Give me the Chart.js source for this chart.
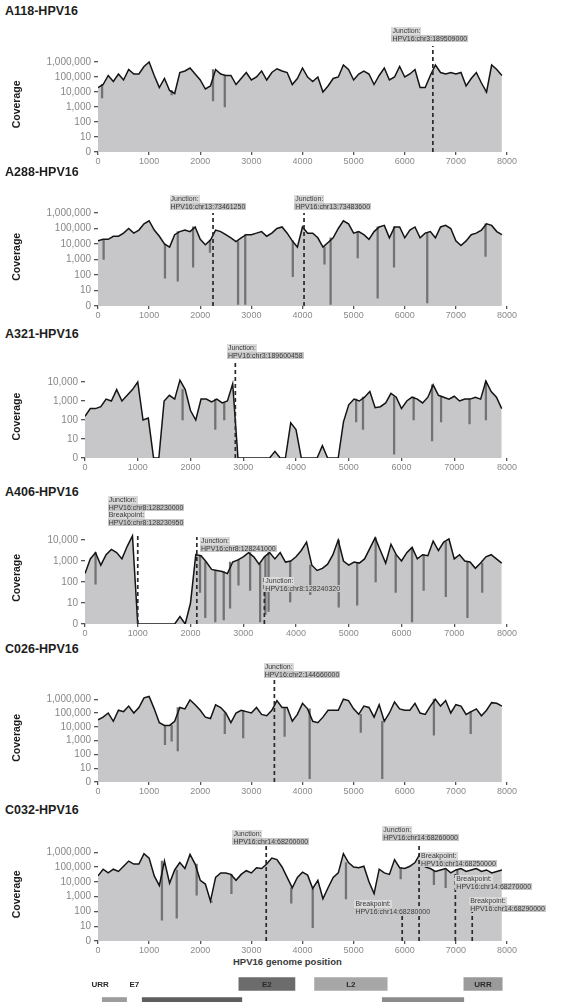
<!DOCTYPE html>
<html><head><meta charset="utf-8">
<script src="https://cdn.jsdelivr.net/npm/chart.js@4.4.0/dist/chart.umd.min.js"></script>
<style>
html,body{margin:0;padding:0;background:#fff;}
body{width:563px;height:1002px;position:relative;overflow:hidden;font-family:'Liberation Sans',Arial,sans-serif;}
canvas{position:absolute;}
.title{position:absolute;left:5px;font-weight:bold;font-size:12.5px;color:#1e1e1e;z-index:3;}
.lab{position:absolute;z-index:4;font-size:7px;line-height:7.6px;color:#3a3a3a;white-space:nowrap;}
.lab div{background:#c6c6c6;padding:0 1px;width:max-content;}
.lab div.h{background:#dadada;}
.gene{position:absolute;z-index:4;font-size:8px;font-weight:bold;color:#2a2a2a;transform:translate(-50%,-50%);white-space:nowrap;}
.xt{position:absolute;z-index:4;font-size:9.5px;font-weight:bold;color:#3a3a3a;}
</style></head>
<body>
<script>
// ---------------- DATA ----------------
const positions = [0,100,200,300,400,500,600,700,800,900,1000,1100,1200,1300,1400,1500,1600,1700,1800,1900,
  2000,2100,2200,2300,2400,2500,2600,2700,2800,2900,3000,3100,3200,3300,3400,3500,3600,3700,3800,3900,
  4000,4100,4200,4300,4400,4500,4600,4700,4800,4900,5000,5100,5200,5300,5400,5500,5600,5700,5800,5900,
  6000,6100,6200,6300,6400,6500,6600,6700,6800,6900,7000,7100,7200,7300,7400,7500,7600,7700,7800,7900];
const xTickValues = [0,1000,2000,3000,4000,5000,6000,7000,8000];
const yTickLabels = ['0','10','100','1,000','10,000','100,000','1,000,000'];
const yTicksMillion = [0,1,2,3,4,5,6];
const yTicksTenK = [0,1,2,3,4];

// coverage, log10 units (0 = no coverage)
const a118Cov = [4.3,4.5,5.1,4.7,5.2,4.8,5.5,5.2,5.2,5.7, 6.0,5.1,4.3,4.9,4.1,3.9,5.3,5.4,5.6,5.2,
  4.8,4.2,4.4,5.5,5.2,5.1,5.1,4.5,4.9,5.3, 4.8,5.0,5.4,4.8,5.3,5.55,5.4,5.3,4.5,4.9,
  5.6,5.0,4.7,5.0,4.0,4.4,4.9,5.0,5.8,5.5, 4.8,5.2,5.4,5.2,4.5,5.1,5.6,4.8,5.0,5.7,
  5.0,5.2,5.5,4.3,4.3,5.1,5.8,5.3,5.2,5.3, 5.2,5.3,4.4,4.9,5.3,4.6,4.0,5.8,5.5,5.1];
const a288Cov = [4.2,4.3,4.3,4.5,4.5,4.7,5.0,4.7,4.9,5.3, 5.5,4.9,4.5,4.0,3.8,4.6,4.8,4.9,4.8,5.1,
  4.3,3.95,4.25,4.9,4.8,4.6,4.4,4.15,4.4,4.6, 4.6,4.7,4.8,4.5,4.7,5.0,5.1,4.7,4.2,3.8,
  5.1,4.7,4.7,4.4,3.8,4.1,4.4,5.0,5.5,5.3, 4.7,4.8,4.6,4.3,4.8,5.1,5.2,4.4,5.1,5.1,
  4.4,4.9,5.1,4.4,4.7,4.8,4.4,5.1,5.2,5.0, 4.2,3.9,4.2,4.6,4.7,4.9,5.3,5.2,4.8,4.6];
const a321Cov = [2.2,2.6,2.6,2.7,3.1,3.0,3.6,3.0,3.3,3.6, 4.0,2.0,2.1,0,0,3.0,3.3,3.1,4.1,3.6,
  2.5,2.0,3.1,3.1,2.95,3.1,2.9,3.0,3.9,0, 0,0,0,0,0,0,0.35,0,0,1.85,
  1.5,0,0,0,0,0.65,0,0,0,1.9, 2.8,3.1,3.0,3.2,3.5,2.65,2.7,2.9,3.4,3.2,
  2.6,3.0,3.2,3.1,2.9,3.2,3.85,3.3,3.2,3.1, 3.25,3.0,3.1,3.1,3.2,3.1,4.05,3.5,3.2,2.6];
const a406Cov = [2.4,3.1,3.4,2.8,3.3,3.55,3.4,3.1,3.7,4.2, 0,0,0,0,0,0,0,0,0.35,0,
  1.0,3.3,3.25,2.95,2.6,2.55,2.5,2.4,2.95,3.05, 3.2,3.4,3.2,2.85,3.2,3.4,3.1,3.4,2.95,3.0,
  3.2,3.5,3.9,2.8,2.55,2.65,2.85,3.3,4.0,3.0, 2.8,2.95,2.9,3.1,3.6,4.1,3.5,2.9,3.8,3.3,
  3.0,3.4,3.65,3.1,3.3,3.25,3.95,3.5,3.9,4.05, 3.1,3.3,3.0,2.95,2.65,2.9,3.2,3.3,3.1,2.9];
const c026Cov = [4.5,4.7,5.0,4.4,5.2,5.1,5.5,5.0,5.4,6.1, 6.2,5.3,4.3,4.1,4.1,4.4,5.4,5.3,5.95,5.6,
  5.2,4.7,4.6,5.6,5.4,5.0,4.3,5.0,5.2,5.1, 5.0,5.4,4.9,4.8,5.2,5.9,5.4,5.4,4.4,4.9,
  5.7,5.3,4.4,4.3,4.7,5.2,5.2,5.2,6.0,5.9, 5.3,4.9,5.5,5.4,4.7,5.6,4.4,5.0,5.8,5.3,
  5.2,5.2,5.7,5.0,4.9,5.5,6.0,5.5,5.9,5.0, 5.6,5.5,4.9,5.1,5.3,4.8,5.2,5.75,5.7,5.5];
const c032Cov = [4.4,4.85,4.6,4.85,4.7,5.05,5.4,5.2,5.2,5.9, 5.6,4.4,3.75,5.4,3.9,4.8,5.3,4.9,5.85,5.2,
  4.1,3.85,2.7,4.3,4.6,4.6,4.5,4.1,4.5,4.75, 4.6,4.95,4.9,5.2,5.6,5.5,5.0,4.3,3.6,4.3,
  4.65,4.45,3.55,4.1,2.85,3.6,4.3,4.6,5.9,5.3, 5.0,4.95,5.05,4.0,3.2,4.85,4.6,4.5,5.5,4.95,
  4.9,5.05,5.3,5.9,5.0,4.9,4.7,4.8,4.9,4.6, 4.8,4.9,4.7,4.8,4.9,4.7,4.8,4.6,4.7,4.8];

// narrow coverage drops: [position, log10 depth]
const a118Dips = [[80,3.6],[1440,3.8],[2250,3.4],[2480,3.0],[7580,4.0]];
const a288Dips = [[110,3.0],[1310,1.8],[1560,1.6],[1860,2.5],[2190,3.45],[2740,0.1],[2880,0.1],[3810,1.9],
  [4430,2.7],[4550,0.1],[5080,3.1],[5470,0.5],[5790,2.5],[6440,0.2],[7580,3.2]];
const a321Dips = [[1850,2.0],[2470,1.5],[2640,2.0],[5140,1.9],[5270,1.5],[5860,0.2],[6230,2.0],[6580,0.9],
  [6750,1.9],[7290,1.8],[7600,2.0]];
const a406Dips = [[200,1.9],[2180,1.5],[2280,0.3],[2470,0.1],[2630,0.2],[2750,0.75],[2910,1.85],[3130,1.6],
  [3320,0.1],[3420,0.45],[3480,0.6],[3890,1.05],[4270,1.4],[4810,0.8],[5160,0.9],[5510,2.0],[5890,1.5],
  [6200,0.1],[6420,1.6],[6840,1.3],[7250,0.3],[7530,1.5]];
const c026Dips = [[1310,2.7],[1440,2.95],[1560,2.25],[2480,3.5],[2840,3.2],[3650,3.3],[4140,0.25],
  [5140,3.6],[5560,0.25],[6570,3.4],[7290,3.5]];
const c032Dips = [[1250,1.4],[1540,1.55],[1930,3.1],[2220,2.6],[2610,3.2],[3780,2.55],[4200,0.9],
  [4850,2.85],[5400,3.2],[5920,4.2],[6570,3.8],[6800,3.6],[7030,3.9]];

// junction / breakpoint positions on the HPV16 genome
const a118Junctions = [6550];
const a288Junctions = [2250, 4030];
const a321Junctions = [2850];
const a406Junctions = [1000, 2120, 3400];
const c026Junctions = [3450];
const c032Junctions = [3290, 5950, 6280, 6990, 7320];

// annotation texts
const a118Notes = [['Junction:','HPV16:chr3:189509000']];
const a288Notes = [['Junction:','HPV16:chr13:73461250'],['Junction:','HPV16:chr13:73483600']];
const a321Notes = [['Junction:','HPV16:chr3:189600458']];
const a406Notes = [['Junction:','HPV16:chr8:128230000','Breakpoint:','HPV16:chr8:128230950'],
  ['Junction:','HPV16:chr8:128241000'],['Junction:','HPV16:chr8:128240320']];
const c026Notes = [['Junction:','HPV16:chr2:144660000']];
const c032Notes = [['Junction:','HPV16:chr14:68200000'],['Junction:','HPV16:chr14:68260000'],
  ['Breakpoint:','HPV16:chr14:68250000'],['Breakpoint:','HPV16:chr14:68270000'],
  ['Breakpoint:','HPV16:chr14:68280000'],['Breakpoint:','HPV16:chr14:68290000']];

// HPV16 genes
const geneNames = ['URR','E6','E7','E1','E2','E4','E5','L2','L1','URR'];
const geneStart = [1,83,562,865,2755,3332,3849,4236,5560,7156];
const geneEnd   = [82,559,858,2813,3852,3619,4100,5657,7155,7906];

// ---------------- LAYOUT / STYLE ----------------
const FAM = "'Liberation Sans', Arial, sans-serif";
const panels = [
  {title:'A118-HPV16', cov:a118Cov, dips:a118Dips, junc:a118Junctions, notes:a118Notes, yTicks:yTicksMillion,
   titleTop:5, yZero:152, dec:15, ymax:6.35, wy:98, juncTop:[46], notePos:[[5740,27]]},
  {title:'A288-HPV16', cov:a288Cov, dips:a288Dips, junc:a288Junctions, notes:a288Notes, yTicks:yTicksMillion,
   titleTop:166, yZero:306, dec:15.5, ymax:6.35, wy:98, juncTop:[213,213], notePos:[[1400,195],[3840,195]]},
  {title:'A321-HPV16', cov:a321Cov, dips:a321Dips, junc:a321Junctions, notes:a321Notes, yTicks:yTicksTenK,
   titleTop:328, yZero:458, dec:19, ymax:4.35, wy:85, juncTop:[360], notePos:[[2690,344]]},
  {title:'A406-HPV16', cov:a406Cov, dips:a406Dips, junc:a406Junctions, notes:a406Notes, yTicks:yTicksTenK,
   titleTop:486, yZero:624, dec:21, ymax:4.4, wy:85, juncTop:[533,537,577], notePos:[[430,496],[2180,537],[3400,577]]},
  {title:'C026-HPV16', cov:c026Cov, dips:c026Dips, junc:c026Junctions, notes:c026Notes, yTicks:yTicksMillion,
   titleTop:643, yZero:782, dec:13.8, ymax:6.4, wy:98, juncTop:[679], notePos:[[3240,663]]},
  {title:'C032-HPV16', cov:c032Cov, dips:c032Dips, junc:c032Junctions, notes:c032Notes, yTicks:yTicksMillion,
   titleTop:804, yZero:941, dec:14.8, ymax:6.3, wy:98, juncTop:[846,915,846,872,912],
   notePos:[[2630,830],[5560,826],[6300,852],[6990,875],[5015,900],[7260,897]]}
];
const PLOT_RIGHT = 507, W = 563, XAXIS_H = 15;

function addDiv(cls, left, top, html) {
  const d = document.createElement('div');
  d.className = cls; d.style.left = left + 'px'; d.style.top = top + 'px'; d.innerHTML = html;
  document.body.appendChild(d); return d;
}

function buildPanel(p) {
  addDiv('title', 5, p.titleTop - 1, p.title);
  const T = p.titleTop + 14;
  const H = p.yZero - T + XAXIS_H;
  const cv = document.createElement('canvas');
  cv.width = W; cv.height = H; cv.style.left = '0px'; cv.style.top = T + 'px';
  cv.style.width = W + 'px'; cv.style.height = H + 'px';
  document.body.appendChild(cv);
  const chartTop = p.yZero - p.dec * p.ymax - T;
  const covPts = positions.map((x, i) => ({x, y: p.cov[i]}));
  const dipPts = p.dips.map(([x, d]) => ({x, y: [d, p.cov[Math.round(x / 100)]]}));
  const datasets = [];
  p.junc.forEach((j, i) => {
    datasets.push({type:'line', data:[{x:j, y:0}, {x:j, y:(p.yZero - p.juncTop[i]) / p.dec}],
      borderColor:'#2a2a2a', borderWidth:1.7, borderDash:[4,3], pointRadius:0, fill:false, clip:false, order:0});
  });
  datasets.push({type:'line', data:covPts, borderColor:'#141414', borderWidth:1.5, pointRadius:0, fill:false, order:1});
  datasets.push({type:'bar', data:dipPts, backgroundColor:'#727272', barThickness:1.6, order:2});
  datasets.push({type:'line', data:covPts, borderWidth:0, borderColor:'rgba(0,0,0,0)', pointRadius:0,
    fill:'origin', backgroundColor:'#c7c7c9', order:3});
  const chart = new Chart(cv, {
    type:'line',
    data:{datasets},
    options:{
      responsive:false, animation:false, devicePixelRatio:1,
      layout:{padding:{top:chartTop, right:W - PLOT_RIGHT, left:0, bottom:0}},
      plugins:{legend:{display:false}, tooltip:{enabled:false}},
      scales:{
        x:{type:'linear', min:0, max:8000, offset:false,
          afterBuildTicks:s => { s.ticks = xTickValues.map(v => ({value:v})); },
          afterFit:s => { s.height = XAXIS_H; },
          ticks:{font:{size:9, family:FAM}, color:'#8a8a8a', padding:1, maxRotation:0, autoSkip:false, callback:v => String(v)},
          grid:{display:true, drawOnChartArea:false, drawTicks:true, tickLength:3, color:'#555', lineWidth:1.3, offset:false},
          border:{display:false}},
        y:{type:'linear', min:0, max:p.ymax,
          afterBuildTicks:s => { s.ticks = p.yTicks.map(v => ({value:v})); },
          afterFit:s => { s.width = p.wy; },
          ticks:{font:{size:10, family:FAM}, color:'#878787', padding:3, autoSkip:false, callback:v => yTickLabels[v]},
          grid:{display:true, drawOnChartArea:false, drawTicks:true, tickLength:4, color:'#555', lineWidth:1.3},
          border:{display:false},
          title:{display:true, text:'Coverage', font:{size:10.5, weight:'bold', family:FAM}, color:'#1a1a1a', padding:{top:11, bottom:0}}}
      }
    }
  });
  const xs = chart.scales.x;
  p.notes.forEach((lines, i) => {
    const [pos, top] = p.notePos[i];
    const html = lines.map((t, k) => `<div class="${k % 2 === 0 ? 'h' : ''}">${t}</div>`).join('');
    addDiv('lab', xs.getPixelForValue(pos), top, html);
  });
  return chart;
}

const charts = panels.map(buildPanel);

// gene track aligned with the last panel's x scale
const last = charts[charts.length - 1];
const area = last.chartArea;
addDiv('xt', 233, 956, 'HPV16 genome position');
const geneRow  = ['top','bottom','top','bottom','top','bottom','bottom','top','bottom','top'];
const geneFill = ['rgba(0,0,0,0)','#9d9d9d','rgba(0,0,0,0)','#5e5e5e','#6c6c6c','rgba(0,0,0,0)','rgba(0,0,0,0)','#a7a7a7','#8b8b8b','#9a9a9a'];
const gcv = document.createElement('canvas');
const gW = Math.round(area.right - area.left), gH = 40, gTop = 974;
gcv.width = gW; gcv.height = gH; gcv.style.left = Math.round(area.left) + 'px'; gcv.style.top = gTop + 'px';
gcv.style.width = gW + 'px'; gcv.style.height = gH + 'px';
document.body.appendChild(gcv);
const geneChart = new Chart(gcv, {
  type:'bar',
  data:{labels:geneNames, datasets:[{
    data:geneNames.map((g, i) => ({x:[geneStart[i], geneEnd[i]], y:geneRow[i]})),
    backgroundColor:geneFill, borderWidth:0, barThickness:13}]},
  options:{indexAxis:'y', responsive:false, animation:false, devicePixelRatio:1,
    layout:{padding:0}, plugins:{legend:{display:false}, tooltip:{enabled:false}},
    scales:{x:{type:'linear', min:0, max:8000, display:false},
            y:{type:'category', labels:['top','bottom'], display:false, offset:true, grid:{offset:true}}}}
});
const gx = geneChart.scales.x, gy = geneChart.scales.y;
geneNames.forEach((g, i) => {
  const cx = Math.round(area.left) + gx.getPixelForValue((geneStart[i] + geneEnd[i]) / 2);
  const cy = gTop + gy.getPixelForValue(geneRow[i] === 'top' ? 0 : 1);
  addDiv('gene', cx, cy, g);
});
</script>
</body></html>
